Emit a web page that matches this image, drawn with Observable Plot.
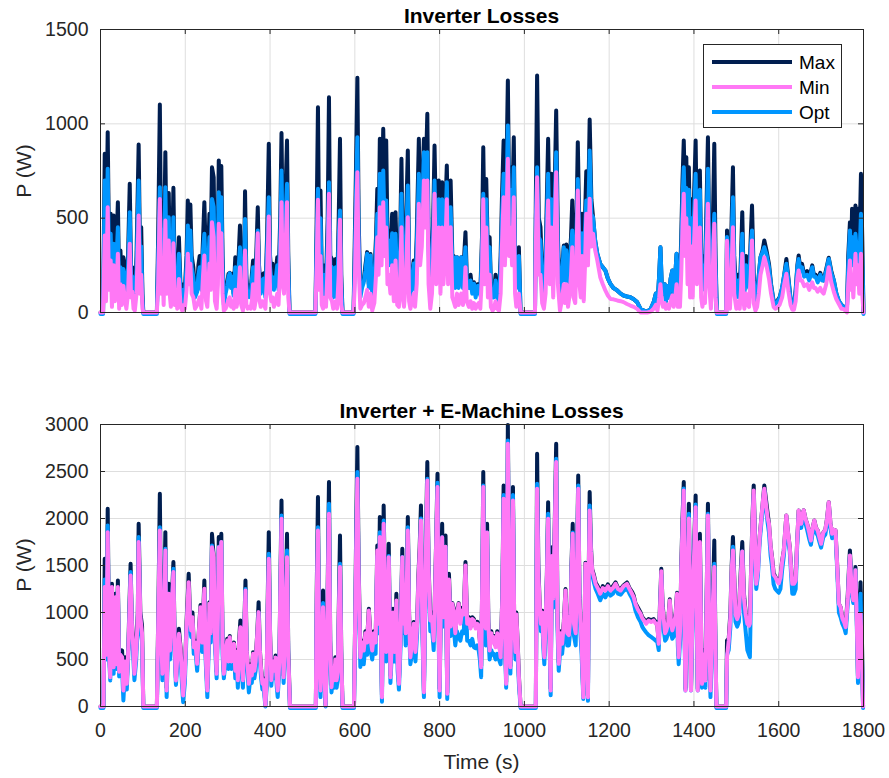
<!DOCTYPE html>
<html><head><meta charset="utf-8">
<script src="https://cdn.jsdelivr.net/npm/d3@7"></script>
<script src="https://cdn.jsdelivr.net/npm/@observablehq/plot@0.6"></script>
<style>
body{margin:0;background:#fff;}
#fig{position:relative;width:889px;height:778px;background:#fff;font-family:"Liberation Sans",Arial,Helvetica,sans-serif;color:#262626;overflow:hidden}
.title{position:absolute;left:100px;width:763px;text-align:center;font-weight:bold;font-size:21px;color:#000;line-height:1;white-space:nowrap}
.ylab{position:absolute;font-size:21px;white-space:nowrap;transform:translate(-50%,-50%) rotate(-90deg);line-height:1}
.xlab{position:absolute;left:100px;width:763px;text-align:center;font-size:21px;line-height:1}
.panel{position:absolute;left:0}
#legend{position:absolute;left:703px;top:44px;width:137px;height:82px;border:1px solid #262626;background:#fff}
#legend svg{position:absolute;left:0;top:0}
</style></head><body><div id="fig"></div><script>
// ---------- tick labels / series names ----------
const xTicks = [0,200,400,600,800,1000,1200,1400,1600,1800];
const yTicksTop = [0,500,1000,1500];
const yTicksBottom = [0,500,1000,1500,2000,2500,3000];
const seriesNames = ["Max","Min","Opt"];
const titles = ["Inverter Losses","Inverter + E-Machine Losses"];

// ---------- top panel: Inverter Losses (W) ----------
const topTime = [
0,6,10,13,17,20,24,27,31,34,
38,41,44,47,50,54,57,61,65,69,
72,75,78,81,85,90,93,96,99,101,
133,136,140,143,146,149,153,156,161,164,
166,169,172,175,178,181,185,189,193,196,
199,203,206,209,212,215,219,223,228,231,
234,238,242,245,249,252,257,260,263,267,
270,274,277,279,282,285,288,291,295,299,
302,305,308,311,314,318,321,325,329,332,
336,339,341,344,347,350,354,357,360,363,
366,371,374,378,382,385,389,393,397,400,
403,406,409,413,417,420,424,427,430,433,
436,440,443,446,507,510,513,516,519,522,
525,529,532,536,539,542,546,549,552,555,
558,562,565,568,571,597,600,603,606,609,
613,617,621,625,629,633,637,641,646,650,
653,656,659,663,667,670,674,677,680,684,
688,692,696,700,704,707,710,713,716,720,
725,728,731,735,739,742,746,751,754,758,
763,767,771,774,778,782,785,788,792,795,
798,802,806,809,813,817,820,823,826,830,
833,837,841,845,848,851,855,858,861,864,
869,873,877,881,885,889,892,896,900,903,
906,910,914,918,921,925,928,932,936,940,
944,947,951,954,958,961,964,967,971,975,
978,981,984,987,991,1025,1027,1030,1034,1038,
1042,1046,1050,1053,1056,1060,1064,1068,1071,1075,
1079,1084,1088,1093,1096,1099,1103,1107,1110,1113,
1116,1120,1123,1126,1130,1133,1136,1140,1143,1146,
1150,1154,1158,1162,1167,1172,1179,1185,1191,1197,
1203,1210,1219,1227,1234,1242,1250,1258,1266,1274,
1282,1290,1298,1305,1310,1314,1318,1321,1324,1327,
1331,1334,1337,1341,1345,1349,1352,1356,1359,1362,
1365,1367,1370,1373,1376,1379,1382,1385,1388,1391,
1394,1397,1400,1404,1407,1411,1414,1417,1420,1423,
1426,1430,1433,1436,1440,1444,1448,1451,1454,1476,
1478,1481,1485,1489,1492,1495,1500,1504,1508,1511,
1514,1517,1519,1523,1527,1530,1534,1537,1541,1545,
1549,1553,1557,1562,1566,1571,1577,1582,1588,1592,
1596,1602,1608,1613,1618,1623,1628,1632,1636,1640,
1644,1647,1651,1655,1660,1667,1672,1679,1683,1687,
1692,1698,1702,1706,1712,1718,1724,1730,1736,1742,
1748,1754,1761,1764,1768,1771,1773,1776,1781,1784,
1787,1790,1794,1797,1800];
const topMax = [
0,0,841,300,956,350,523,200,514,250,
380,585,150,329,180,293,250,99,300,682,
240,240,120,64,300,890,350,452,100,0,
0,400,1103,300,558,200,850,300,633,250,
152,300,661,200,293,150,399,120,60,150,
120,300,594,350,572,300,240,100,134,250,
300,150,400,585,250,180,523,350,770,717,
250,100,400,806,600,776,300,60,120,160,
205,210,150,205,100,293,150,250,461,200,
60,300,643,200,100,143,100,200,276,120,
200,558,250,120,200,208,100,400,894,300,
200,258,150,200,293,150,500,951,400,300,
600,912,300,0,0,500,1088,300,647,200,
100,250,150,500,1141,300,284,100,200,284,
100,500,921,200,0,0,400,800,1244,500,
100,150,170,250,320,150,310,100,200,400,
656,400,921,500,974,600,912,400,435,300,
523,250,532,200,150,400,815,300,150,400,
859,250,100,200,276,150,400,921,500,600,
921,700,1053,400,120,300,500,885,400,500,
700,300,691,400,500,779,400,600,700,300,
300,150,293,150,250,293,150,300,426,200,
150,200,120,160,100,150,150,100,400,876,
400,708,300,399,150,100,100,200,100,80,
300,600,912,500,800,1230,600,770,500,929,
300,150,200,346,0,0,600,1256,500,452,
200,100,300,600,921,400,735,300,600,1071,
400,80,200,355,200,360,150,300,400,594,
300,200,500,903,400,300,523,250,500,749,
500,1023,600,505,380,311,258,240,223,180,
152,130,117,100,90,85,81,70,55,19,
10,5,20,55,100,40,200,346,150,99,
150,60,140,80,180,223,100,200,311,120,
200,150,400,700,912,600,823,400,770,300,
600,300,600,912,400,600,753,300,150,300,
200,600,929,400,100,400,894,300,0,0,
435,200,100,500,770,300,100,200,100,300,
532,200,120,300,200,150,400,567,200,60,
100,200,293,330,382,330,258,150,60,50,
60,80,130,200,284,180,70,40,40,120,
250,302,230,258,200,220,180,250,200,200,
170,210,180,170,230,290,220,170,100,60,
40,30,20,300,479,300,550,300,567,400,
550,300,735,400,0];
const topOpt = [
-8,-8,700,220,762,260,417,150,364,180,
290,452,110,240,130,230,200,70,230,532,
200,190,90,50,230,700,280,350,70,-8,
-8,300,664,250,440,150,664,240,505,200,
120,250,505,160,230,110,311,90,40,120,
90,250,461,300,435,240,190,80,110,200,
240,120,330,417,200,140,400,280,602,560,
200,70,320,638,480,611,240,40,100,140,
190,208,130,190,90,240,120,200,346,160,
50,250,496,160,80,110,80,170,240,100,
170,435,200,100,170,180,80,330,611,240,
170,187,120,170,250,120,400,753,330,250,
480,682,240,-8,-8,400,656,260,500,160,
80,200,120,400,691,250,240,80,170,240,
80,400,541,150,-8,-8,300,650,929,400,
80,130,160,220,311,130,302,80,170,340,
523,330,735,400,753,480,594,330,382,250,
420,200,417,160,120,330,629,240,120,330,
673,200,80,170,260,120,330,735,420,500,
850,600,850,330,100,250,420,700,330,420,
600,250,600,330,420,691,330,500,558,250,
293,130,293,130,230,293,130,250,346,170,
130,170,100,152,80,140,140,90,340,629,
330,600,250,346,120,80,80,170,80,60,
250,500,735,400,650,991,500,650,400,770,
250,130,170,300,-8,-8,500,770,400,380,
170,80,250,500,735,330,600,250,500,850,
330,60,170,346,170,330,120,250,350,435,
250,170,420,708,330,250,420,200,420,594,
420,859,520,505,380,311,258,240,223,180,
152,130,117,100,90,85,81,70,55,19,
10,5,20,55,100,40,200,346,150,99,
150,60,140,80,180,223,100,200,311,120,
180,140,330,600,770,500,660,330,650,250,
500,250,500,735,330,500,650,250,120,250,
170,500,762,330,80,330,523,250,-8,-8,
400,170,80,400,611,250,80,170,80,250,
417,170,100,250,170,130,350,435,170,50,
80,190,293,320,346,310,240,140,55,45,
55,75,130,200,258,170,65,35,35,110,
240,284,220,240,190,200,170,240,190,190,
160,200,170,170,220,284,210,170,100,60,
40,28,18,250,435,250,400,250,417,330,
350,250,523,300,-8];
const topMin = [
0,0,408,60,558,120,276,30,250,60,
150,311,20,150,40,140,80,20,100,364,
80,110,20,10,100,514,100,200,20,0,
0,150,602,100,250,40,488,100,382,80,
30,120,367,40,120,20,178,30,10,40,
20,120,311,150,258,100,80,20,40,60,
80,20,200,302,60,30,260,120,479,400,
60,20,150,470,300,420,100,10,20,40,
70,80,30,60,20,120,30,80,240,40,
10,120,329,40,20,30,20,60,150,20,
60,420,80,30,60,50,20,200,509,100,
60,80,30,60,100,40,250,585,150,100,
300,585,80,0,0,250,597,120,300,40,
20,80,30,250,629,80,60,20,50,60,
20,200,491,40,0,0,150,500,744,250,
20,40,50,80,120,30,100,10,50,200,
399,200,558,250,585,300,450,150,200,100,
250,60,276,40,30,180,452,80,30,150,
505,60,20,60,100,30,150,576,250,350,
700,450,700,150,20,100,300,629,150,250,
450,100,450,150,300,600,150,350,452,80,
60,30,100,40,80,100,40,100,240,60,
30,60,20,50,20,40,50,20,200,600,
150,450,80,200,30,10,20,60,20,10,
100,350,611,250,500,815,300,450,250,611,
100,30,50,100,0,0,350,717,200,200,
50,20,100,350,594,150,450,80,350,744,
150,10,60,150,50,150,30,100,200,346,
80,50,300,647,150,80,300,60,250,523,
250,603,350,417,330,276,187,150,117,90,
72,70,64,60,55,45,37,30,19,0,
0,0,5,20,40,10,80,150,60,30,
50,20,40,20,60,90,30,80,150,30,
60,30,200,450,629,300,500,150,450,80,
350,80,350,594,150,300,450,80,30,80,
50,350,576,150,20,200,470,80,0,0,
380,40,20,250,452,100,20,60,20,120,
311,60,20,100,40,30,200,382,50,10,
30,100,200,250,293,250,180,100,30,20,
25,40,80,150,205,110,40,15,15,60,
180,223,170,170,140,150,120,160,130,130,
110,130,110,100,150,240,160,110,70,45,
20,18,0,150,276,120,200,80,311,150,
250,100,311,100,0];

// ---------- bottom panel: Inverter + E-Machine Losses (W) ----------
const botTime = [
0,7,10,14,17,20,23,27,31,35,
38,41,44,47,51,54,58,62,66,71,
74,77,80,84,88,90,94,98,101,133,
137,140,143,146,150,153,156,159,161,164,
168,172,175,178,182,185,189,192,195,199,
203,208,211,214,217,220,224,228,232,236,
240,245,248,252,255,257,260,263,267,270,
274,277,279,282,285,288,291,295,299,302,
305,309,312,315,318,321,324,327,330,333,
336,339,342,345,348,350,354,357,360,363,
366,370,373,376,379,382,385,389,392,394,
397,400,403,406,410,413,416,418,422,424,
427,430,432,436,440,443,447,508,510,513,
516,519,522,525,528,531,534,536,539,542,
545,548,551,554,557,560,562,565,568,571,
598,601,603,606,609,613,617,621,625,629,
633,637,641,645,649,653,656,659,662,664,
666,668,671,674,677,680,684,687,690,694,
698,701,704,708,712,715,717,720,722,725,
728,731,735,739,743,747,750,753,756,759,
763,766,768,771,774,778,782,786,789,792,
795,798,800,803,806,809,812,814,818,820,
822,826,830,833,837,841,845,849,853,857,
861,865,869,873,877,881,885,889,892,895,
898,901,903,906,909,912,915,918,922,925,
928,932,936,940,944,948,951,954,957,959,
961,964,967,970,973,976,979,981,984,987,
991,1027,1030,1033,1036,1039,1042,1045,1047,1050,
1053,1056,1059,1062,1065,1068,1071,1075,1078,1081,
1085,1089,1093,1097,1101,1105,1109,1111,1114,1117,
1121,1124,1127,1130,1132,1135,1139,1142,1144,1147,
1150,1152,1154,1157,1160,1164,1168,1173,1179,1185,
1191,1197,1203,1209,1215,1221,1227,1234,1242,1248,
1254,1258,1262,1268,1274,1278,1282,1287,1293,1299,
1305,1310,1313,1317,1320,1323,1326,1329,1332,1335,
1339,1343,1346,1349,1353,1357,1360,1362,1364,1368,
1370,1373,1376,1378,1380,1383,1385,1388,1391,1393,
1396,1399,1401,1404,1407,1409,1411,1414,1417,1419,
1423,1427,1430,1433,1436,1439,1442,1445,1448,1451,
1453,1476,1478,1482,1486,1489,1492,1495,1498,1502,
1506,1510,1514,1518,1522,1526,1530,1532,1535,1538,
1541,1544,1547,1551,1555,1559,1563,1566,1570,1574,
1577,1581,1584,1588,1592,1596,1600,1604,1608,1612,
1615,1618,1622,1626,1629,1632,1636,1640,1643,1647,
1650,1653,1656,1659,1663,1667,1672,1676,1680,1684,
1688,1692,1696,1700,1705,1710,1714,1718,1722,1726,
1730,1734,1738,1742,1746,1750,1755,1758,1763,1766,
1768,1772,1776,1779,1781,1784,1787,1790,1793,1796,
1799];
const botMax = [
0,0,1571,600,2103,700,330,1305,440,1200,
500,1341,400,600,596,190,525,260,700,1518,
900,700,370,600,1000,1944,1000,862,0,0,
1200,2263,800,370,1000,1855,200,700,1305,620,
1100,1536,700,300,600,826,620,400,140,370,
900,1412,1000,830,1000,650,700,470,800,1080,
700,1341,600,190,700,1110,800,1837,1600,800,
370,1000,1802,1300,1837,700,370,600,720,500,
750,500,650,680,400,600,300,700,915,500,
300,800,1341,600,400,260,450,350,578,400,
500,800,1110,600,400,260,300,20,300,1000,
1855,800,300,500,400,543,300,200,500,1200,
2192,800,330,900,1837,600,0,0,1200,2228,
600,190,600,1234,400,20,600,1300,2387,700,
230,400,300,525,300,400,1000,1820,600,0,
0,1000,1800,2760,1500,550,700,620,800,700,
1040,750,620,800,700,1713,900,2015,700,120,
1000,2139,1200,600,1000,1731,330,700,1039,600,
1199,500,260,800,1678,900,1199,800,1200,2015,
1000,550,700,900,600,900,1400,1700,2139,1000,
170,1200,1800,2600,1500,930,1000,720,1200,1800,
2476,800,190,1200,1944,1000,1500,1820,150,800,
1412,900,1100,1050,800,1000,1100,900,1050,1000,
1536,900,950,850,950,930,850,900,880,700,
430,1500,2494,1000,850,1944,900,610,800,700,
750,650,800,700,540,1200,2352,900,260,1500,
2995,1200,430,1200,2334,900,600,1000,700,330,
0,0,2689,1500,1100,900,1020,700,540,900,
1400,2174,900,190,1695,1200,1800,2795,1000,470,
800,680,900,1250,800,780,1000,1500,1944,900,
800,1500,2458,1200,950,700,120,900,1530,800,
120,1500,2281,1700,1460,1400,1320,1280,1210,1280,
1240,1300,1240,1280,1320,1260,1250,1290,1320,1260,
1220,1180,1100,1050,1000,950,930,900,930,920,
930,900,900,680,1100,1465,1100,930,800,830,
900,1140,900,830,900,1000,1210,800,540,900,
1500,2000,2387,900,190,900,1500,2157,1000,190,
900,1500,1800,2245,900,190,900,1837,800,250,
600,280,1200,2157,800,190,800,1200,1766,600,
0,0,702,720,1000,1500,1802,1400,1000,950,
1000,1400,1749,1200,1000,900,880,900,1500,2000,
2352,1800,1320,1500,1802,2000,2200,2352,2200,2050,
1944,1700,1600,1420,1380,1350,1320,1380,1550,1660,
1850,2032,1850,1700,1500,1320,1310,1350,1700,2086,
2000,1944,2050,2086,2000,1944,1850,1766,1900,1979,
1900,1873,1800,1731,1850,1880,2000,2174,1950,1837,
1880,1873,1500,1092,1057,950,900,844,1200,1500,
1660,1300,1150,1300,1483,1000,312,900,1323,800,
0];
const botOpt = [
-15,-15,1350,500,1926,560,277,1200,348,1100,
400,1250,320,480,400,64,400,180,600,1430,
780,560,280,480,850,1802,850,700,-15,-15,
1000,1908,650,280,850,1678,100,550,1200,500,
950,1465,550,230,500,700,500,250,46,250,
780,1250,850,738,880,560,600,380,700,950,
580,1200,500,100,580,1000,680,1713,1500,650,
300,850,1700,1200,1750,550,300,480,600,400,
620,400,520,560,300,480,200,580,800,380,
200,700,1250,480,280,150,330,250,480,300,
380,700,1000,480,300,180,200,0,200,850,
1624,650,220,400,300,420,200,100,400,1050,
2032,650,250,750,1660,480,-15,-15,1000,1908,
480,100,480,1100,300,0,480,1100,2157,550,
150,300,200,420,200,300,850,1518,450,-15,
-15,850,1600,2494,1300,420,550,450,650,550,
900,600,500,650,560,1600,780,1855,550,50,
850,1979,1050,480,850,1600,250,550,900,480,
1100,380,180,650,1590,780,1050,650,1050,1908,
850,450,560,780,480,780,1250,1550,2000,850,
100,1050,1650,2423,1350,800,850,600,1050,1650,
2380,650,100,1050,1800,850,1350,1700,80,650,
1300,750,950,850,650,800,738,700,800,780,
1400,700,700,650,720,631,620,650,600,500,
312,1350,2352,850,650,1850,750,500,600,550,
560,500,560,500,450,1050,2250,750,200,1300,
2830,1000,350,1000,2250,750,500,850,550,250,
-15,-15,2370,1300,950,800,950,600,450,800,
1300,2050,780,120,1500,1050,1600,2635,850,380,
650,560,750,1150,650,650,850,1400,1850,750,
650,1350,2352,1050,800,550,80,750,1450,650,
60,1350,2139,1550,1400,1320,1250,1200,1130,1200,
1160,1220,1180,1200,1260,1200,1190,1230,1260,1200,
1150,1100,1020,950,900,850,820,790,760,740,
720,700,700,600,1000,1400,1000,800,700,720,
780,1050,780,720,750,850,1100,650,450,750,
1350,1850,2320,700,170,750,1350,2050,850,170,
750,1350,1650,2150,750,170,750,1700,650,200,
450,200,1050,2050,650,100,650,1050,1518,450,
-15,-15,550,600,850,1350,1700,1250,900,850,
900,1250,1650,1000,800,600,550,525,1300,1850,
2250,1600,1250,1400,1750,1950,2150,2300,2100,1950,
1850,1600,1500,1300,1250,1230,1210,1250,1450,1600,
1800,1980,1780,1650,1420,1200,1200,1250,1650,2040,
1950,1900,2000,2040,1950,1880,1780,1720,1850,1930,
1850,1820,1750,1690,1800,1830,1950,2130,1900,1790,
1830,1830,1450,1000,950,880,830,780,1100,1450,
1600,1200,1100,1250,1450,900,250,800,1200,600,
-15];
const botMin = [
0,0,1270,550,1855,620,312,1270,418,1163,
450,1270,370,550,525,170,480,241,650,1394,
880,650,348,560,950,1749,950,780,0,0,
1100,1873,750,348,950,1660,170,650,1199,596,
1050,1430,650,277,580,773,596,350,117,348,
850,1323,950,809,950,631,680,454,780,1057,
680,1252,580,170,680,1092,780,1695,1589,750,
348,950,1695,1250,1749,650,348,580,702,480,
738,480,630,667,380,580,280,680,844,480,
280,780,1234,580,380,241,430,330,560,380,
480,780,1004,580,380,241,280,10,280,950,
1571,750,280,480,380,520,280,170,480,1150,
1997,750,312,850,1589,550,0,0,1100,1873,
550,170,580,1057,380,10,580,1200,2050,650,
206,380,280,500,280,380,950,1483,550,0,
0,950,1600,2423,1400,525,680,596,780,680,
1021,720,596,780,680,1660,880,1802,650,99,
950,1944,1150,580,950,1589,312,680,1000,580,
1128,480,241,780,1589,880,1100,780,1150,1873,
950,525,680,880,580,880,1350,1650,1979,950,
152,1150,1750,2405,1450,915,950,702,1150,1750,
2334,750,170,1150,1800,950,1450,1700,135,750,
1350,850,1092,1020,780,980,1092,880,1020,980,
1500,880,930,830,930,915,830,880,860,680,
418,1450,2334,950,830,1850,880,596,780,680,
738,630,780,680,525,1150,2210,880,241,1450,
2795,1150,418,1150,2192,880,580,980,680,312,
0,0,2316,1400,1092,880,1000,680,525,880,
1350,1997,880,170,1600,1150,1750,2600,950,454,
780,667,880,1234,780,760,980,1450,1837,880,
780,1450,2316,1150,930,680,99,880,1518,780,
99,1450,2086,1650,1447,1380,1305,1260,1199,1260,
1234,1280,1234,1260,1305,1250,1234,1280,1305,1250,
1199,1160,1092,1030,986,940,915,880,915,900,
915,880,880,667,1050,1440,1050,915,780,810,
880,1128,880,810,880,980,1199,780,525,880,
1450,1900,2298,850,170,850,1450,2000,950,170,
850,1450,1700,2121,850,170,850,1750,750,241,
550,277,1150,2032,750,170,750,1150,1483,550,
0,0,525,700,950,1450,1660,1350,980,930,
980,1350,1650,1150,980,880,860,880,1450,1950,
2298,1750,1305,1450,1802,2000,2200,2316,2150,2000,
1944,1700,1589,1400,1376,1340,1310,1370,1540,1660,
1850,2032,1850,1695,1480,1305,1305,1340,1700,2086,
2000,1944,2050,2086,2000,1944,1850,1766,1900,1979,
1900,1873,1800,1731,1850,1880,2000,2174,1950,1837,
1880,1873,1490,1092,1057,940,890,844,1150,1450,
1607,1250,1130,1250,1450,950,312,850,986,600,
0];

// ---------- styling ----------
const colors = {Max:"#001e50", Opt:"#0096ff", Min:"#ff78f5"};
const font = '"Liberation Sans", Arial, Helvetica, sans-serif';
const ink = "#262626";
const xDomain = [0,1800];
const plain = d => String(d);

function rows(t,a,b,c,name){
  if(!(t.length===a.length&&a.length===b.length&&b.length===c.length))
    throw new Error(name+" length mismatch "+[t.length,a.length,b.length,c.length].join(","));
  return t.map((x,i)=>({t:x,max:a[i],opt:b[i],min:c[i]}));
}
const topData = rows(topTime,topMax,topOpt,topMin,"top");
const botData = rows(botTime,botMax,botOpt,botMin,"bottom");

function panel({data,yDomain,yTicks,showX,height,marginBottom}){
  const W=889,mL=100,mR=26,mT=29;
  const pw=W-mL-mR, ph=height-mT-marginBottom, tk=5;
  const dx=tk*(xDomain[1]-xDomain[0])/pw, dy=tk*(yDomain[1]-yDomain[0])/ph;
  const inner = xTicks.filter(v=>v>xDomain[0]&&v<xDomain[1]);
  const innerY = yTicks.filter(v=>v>yDomain[0]&&v<yDomain[1]);
  const lw=4;
  return Plot.plot({
    width:W,height,marginLeft:mL,marginRight:mR,marginTop:mT,marginBottom,
    x:{domain:xDomain, ...(showX?{}:{axis:null})},
    y:{domain:yDomain},
    style:{fontFamily:font,color:ink,background:"transparent",overflow:"visible"},
    marks:[
      Plot.ruleY(innerY,{stroke:"#dedede"}),
      Plot.ruleX(inner,{stroke:"#dedede"}),
      Plot.line(data,{x:"t",y:"max",stroke:colors.Max,strokeWidth:lw,strokeLinejoin:"round"}),
      Plot.line(data,{x:"t",y:"opt",stroke:colors.Opt,strokeWidth:lw,strokeLinejoin:"round"}),
      Plot.line(data,{x:"t",y:"min",stroke:colors.Min,strokeWidth:lw,strokeLinejoin:"round"}),
      Plot.frame({stroke:ink}),
      Plot.ruleY(yTicks,{x1:xDomain[0],x2:xDomain[0]+dx,stroke:ink}),
      Plot.ruleY(yTicks,{x1:xDomain[1]-dx,x2:xDomain[1],stroke:ink}),
      Plot.ruleX(xTicks,{y1:yDomain[0],y2:yDomain[0]+dy,stroke:ink}),
      Plot.ruleX(xTicks,{y1:yDomain[1]-dy,y2:yDomain[1],stroke:ink}),
      Plot.axisY(yTicks,{anchor:"left",tickSize:0,tickPadding:12,fontSize:19.5,label:null,tickFormat:plain}),
      showX ? Plot.axisX(xTicks,{anchor:"bottom",tickSize:0,tickPadding:11,dy:6,fontSize:19.5,label:null,tickFormat:plain}) : null
    ]
  });
}

const fig = document.getElementById("fig");
function add(el,cls,style,text){ const d=document.createElement("div"); if(cls)d.className=cls; Object.assign(d.style,style); if(text!=null)d.textContent=text; fig.appendChild(d); return d; }

const p1 = panel({data:topData,yDomain:[0,1500],yTicks:yTicksTop,showX:false,height:340,marginBottom:28});
const w1 = add(null,"panel",{top:"0px"}); w1.appendChild(p1);
const p2 = panel({data:botData,yDomain:[0,3000],yTicks:yTicksBottom,showX:true,height:383,marginBottom:72});
const w2 = add(null,"panel",{top:"395px"}); w2.appendChild(p2);

add(null,"title",{top:"5px"},titles[0]);
add(null,"title",{top:"400px"},titles[1]);
add(null,"ylab",{left:"23px",top:"171px"},"P (W)");
add(null,"ylab",{left:"23px",top:"565px"},"P (W)");
add(null,"xlab",{top:"751px"},"Time (s)");

// legend
const leg = add(null,null,{},null); leg.id="legend";
const ns="http://www.w3.org/2000/svg";
const svg=document.createElementNS(ns,"svg"); svg.setAttribute("width","137"); svg.setAttribute("height","82");
seriesNames.forEach((n,i)=>{
  const y=17+i*25;
  const l=document.createElementNS(ns,"line");
  l.setAttribute("x1",8);l.setAttribute("x2",88);l.setAttribute("y1",y);l.setAttribute("y2",y);
  l.setAttribute("stroke",colors[n]);l.setAttribute("stroke-width",4);
  svg.appendChild(l);
  const t=document.createElementNS(ns,"text");
  t.setAttribute("x",95);t.setAttribute("y",y+7);t.setAttribute("font-size","19");
  t.setAttribute("font-family",font);t.setAttribute("fill","#000");t.textContent=n;
  svg.appendChild(t);
});
leg.appendChild(svg);
</script></body></html>
